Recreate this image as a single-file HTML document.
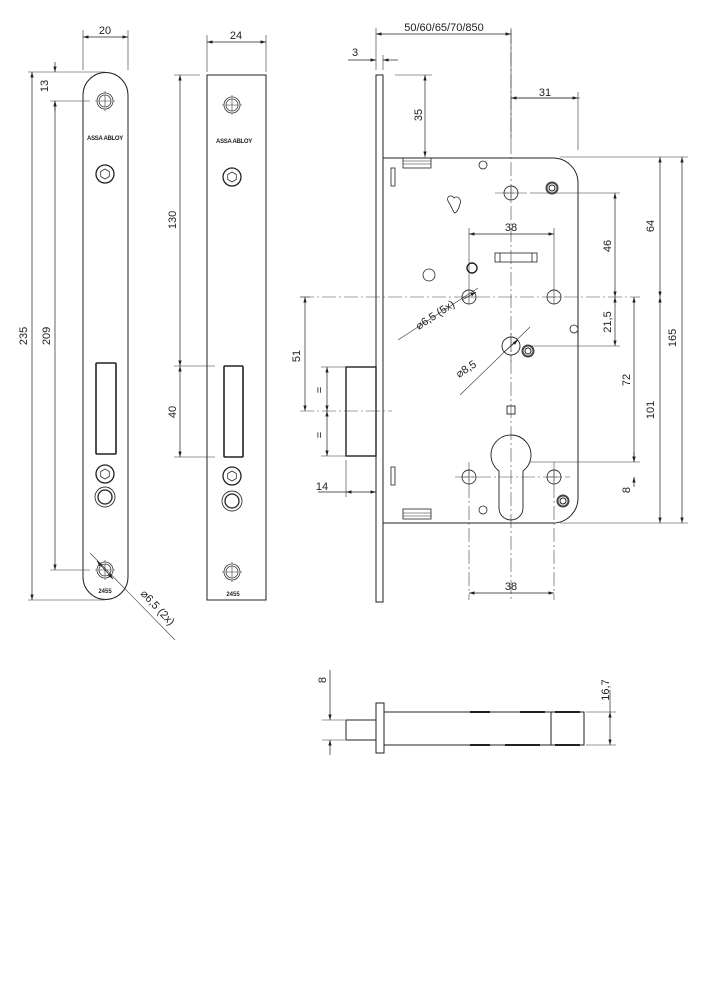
<!DOCTYPE html>
<html><head><meta charset="utf-8"><style>
html,body{margin:0;padding:0;background:#fff}
svg{display:block}
text{font-family:"Liberation Sans",sans-serif;font-size:11px;fill:#222}
</style></head><body>
<svg width="707" height="1000" viewBox="0 0 707 1000" xmlns="http://www.w3.org/2000/svg">
<defs>
<marker id="a" viewBox="0 0 10 6" refX="10" refY="3" markerWidth="8" markerHeight="5" orient="auto-start-reverse"><path d="M0,0L10,3L0,6z" fill="#222"/></marker>
<g id="ph"><circle r="7" fill="none" stroke="#333" stroke-width="0.9"/><path d="M-7,0H7M0,-7V7" stroke="#333" stroke-width="0.6"/></g>
<g id="ps"><circle r="8" fill="none" stroke="#333" stroke-width="0.8"/><circle r="6" fill="none" stroke="#333" stroke-width="0.8"/><path d="M-6,0H6M0,-6V6" stroke="#333" stroke-width="0.6"/><path d="M0,-10V-8M0,8V10M-10,0H-8M8,0H10" stroke="#333" stroke-width="0.6"/></g>
<g id="hx"><circle r="9" fill="none" stroke="#222" stroke-width="1.3"/><path d="M0,-5L4.3,-2.5L4.3,2.5L0,5L-4.3,2.5L-4.3,-2.5Z" fill="none" stroke="#333" stroke-width="0.8"/></g>
<g id="rg"><circle r="10" fill="none" stroke="#333" stroke-width="0.9"/><circle r="7" fill="none" stroke="#222" stroke-width="1.3"/></g>
<g id="sc"><circle r="6.5" fill="#444"/><circle r="4.5" fill="#fff"/><circle r="3" fill="none" stroke="#222" stroke-width="1"/></g>
</defs>
<g stroke="#222" fill="none" stroke-width="1">
<path d="M83,95 A22.5,22.5 0 0 1 128,95 V577 A22.5,22.5 0 0 1 83,577 Z"/>
<rect x="96" y="363" width="20" height="91" stroke-width="1.6" rx="1"/>
<rect x="207" y="75" width="59" height="525"/>
<rect x="224" y="366" width="19" height="91" stroke-width="1.6" rx="1"/>
<rect x="376" y="75" width="7" height="527"/>
<path d="M383,158 H553 A25,25 0 0 1 578,183 V498 A25,25 0 0 1 553,523 H383"/>
<rect x="346" y="367" width="30" height="89" stroke-width="1.4"/>
<rect x="403" y="158" width="28" height="10" stroke-width="0.8"/>
<path d="M403,161H431M403,164H431" stroke-width="0.5"/>
<rect x="403" y="509" width="28" height="10" stroke-width="0.8"/>
<path d="M403,513H431M403,516H431" stroke-width="0.5"/>
<rect x="391" y="168" width="4" height="18" stroke-width="0.8"/>
<rect x="391" y="467" width="4" height="18" stroke-width="0.8"/>
<rect x="495" y="253" width="42" height="9" stroke-width="0.8"/>
<path d="M500,253V262M532,253V262" stroke-width="0.8"/>
<rect x="507" y="406" width="8" height="8" stroke-width="0.9"/>
<path d="M499,471 A20,20 0 1 1 523,471 V508 A12,12 0 0 1 499,508 Z" stroke-width="0.9"/>
<circle cx="483" cy="165" r="4" stroke-width="0.8"/>
<circle cx="574" cy="329" r="4" stroke-width="0.8"/>
<circle cx="483" cy="510" r="4" stroke-width="0.8"/>
<circle cx="429" cy="275" r="6" stroke-width="0.8"/>
<circle cx="472" cy="268" r="5" stroke-width="1.4"/>
<path d="M448,201 C446,196 452,194 454,198 C457,195 462,199 460,204 C459,208 457,212 455,213 C453,212 452,207 448,201 Z" stroke-width="0.8"/>
<circle cx="511" cy="346" r="9" stroke-width="0.9"/>
<rect x="376" y="703" width="8" height="50"/>
<rect x="346" y="720" width="30" height="20"/>
<path d="M384,712 H584 V745 H384 M551,712V745"/>
<path d="M470,712h20M520,712h25M555,712h25M470,745h20M505,745h35M555,745h25" stroke-width="2"/>
</g>
<use href="#ps" x="105" y="101"/><use href="#ps" x="105" y="570"/>
<use href="#ps" x="232" y="105"/><use href="#ps" x="232" y="572"/>
<use href="#hx" x="105" y="174"/><use href="#hx" x="232" y="177"/>
<use href="#hx" x="105" y="474"/><use href="#hx" x="232" y="476"/>
<use href="#rg" x="105" y="497"/><use href="#rg" x="232" y="501"/>
<use href="#ph" x="511" y="193"/><use href="#ph" x="469" y="297"/><use href="#ph" x="554" y="297"/>
<use href="#ph" x="469" y="477"/><use href="#ph" x="554" y="477"/>
<use href="#sc" x="552" y="188"/><use href="#sc" x="528" y="351"/><use href="#sc" x="563" y="501"/>
<text x="105" y="140" text-anchor="middle" style="font-size:6px;font-weight:bold;letter-spacing:-0.3px">ASSA ABLOY</text>
<text x="234" y="143" text-anchor="middle" style="font-size:6px;font-weight:bold;letter-spacing:-0.3px">ASSA ABLOY</text>
<text x="105" y="593" text-anchor="middle" style="font-size:6px;font-weight:bold">2455</text>
<text x="233" y="596" text-anchor="middle" style="font-size:6px;font-weight:bold">2455</text>
<g stroke="#444" stroke-width="0.6" stroke-dasharray="14,3,2,3" fill="none">
<path d="M511,30V600"/>
<path d="M300,297H640"/>
<path d="M300,411H392"/>
<path d="M455,477H570M469,462V600M554,462V600"/>
<path d="M495,193H527M511,333V362"/>
</g>
<g stroke="#333" stroke-width="0.6" fill="none">
<path d="M83,30V70M128,30V70M207,35V72M266,35V72"/>
<path d="M28,72H105M50,101H90M28,600H105M50,570H90"/>
<path d="M174,75H200M174,366H215M174,457H215"/>
<path d="M376,28V70M383,55V70M395,75H432M511,28V140M578,92V150M516,98H580"/>
<path d="M560,157H688M530,193H620M560,523H688M530,346H620M530,462H640"/>
<path d="M469,228V290M554,228V290"/>
<path d="M300,297H310M321,367H346M321,456H346M346,460V497"/>
<path d="M322,720H345M322,740H345M586,712H616M586,745H616"/>
<path d="M90,553L175,640M398,340L478,288M460,395L530,327"/>
</g>
<g stroke="#222" stroke-width="0.7" fill="none">
<path d="M83,37H128" marker-start="url(#a)" marker-end="url(#a)"/>
<path d="M207,42H266" marker-start="url(#a)" marker-end="url(#a)"/>
<path d="M55,62V72" marker-end="url(#a)"/><path d="M55,111V101" marker-end="url(#a)"/>
<path d="M32,72V600" marker-start="url(#a)" marker-end="url(#a)"/>
<path d="M55,101V570" marker-start="url(#a)" marker-end="url(#a)"/>
<path d="M180,75V366" marker-start="url(#a)" marker-end="url(#a)"/>
<path d="M180,366V457" marker-start="url(#a)" marker-end="url(#a)"/>
<path d="M376,34H511" marker-start="url(#a)" marker-end="url(#a)"/>
<path d="M348,60H376" marker-end="url(#a)"/><path d="M398,60H383" marker-end="url(#a)"/>
<path d="M425,75V157" marker-start="url(#a)" marker-end="url(#a)"/>
<path d="M511,98H578" marker-start="url(#a)" marker-end="url(#a)"/>
<path d="M660,157V297" marker-start="url(#a)" marker-end="url(#a)"/>
<path d="M682,157V523" marker-start="url(#a)" marker-end="url(#a)"/>
<path d="M615,193V297" marker-start="url(#a)" marker-end="url(#a)"/>
<path d="M615,297V346" marker-start="url(#a)" marker-end="url(#a)"/>
<path d="M634,297V462" marker-start="url(#a)" marker-end="url(#a)"/>
<path d="M660,297V523" marker-start="url(#a)" marker-end="url(#a)"/>
<path d="M634,452V462" marker-end="url(#a)"/><path d="M634,487V477" marker-end="url(#a)"/>
<path d="M469,234H554" marker-start="url(#a)" marker-end="url(#a)"/>
<path d="M469,593H554" marker-start="url(#a)" marker-end="url(#a)"/>
<path d="M305,297V411" marker-start="url(#a)" marker-end="url(#a)"/>
<path d="M327,367V411" marker-start="url(#a)" marker-end="url(#a)"/>
<path d="M327,411V456" marker-start="url(#a)" marker-end="url(#a)"/>
<path d="M318,492H346"/><path d="M346,492H376" marker-start="url(#a)" marker-end="url(#a)"/>
<path d="M330,705V720" marker-end="url(#a)"/><path d="M330,755V740" marker-end="url(#a)"/>
<path d="M610,712V745" marker-start="url(#a)" marker-end="url(#a)"/>
<path d="M610,690V712"/>
<path d="M330,670V705"/>
<path d="M97,561L113,579" marker-start="url(#a)" marker-end="url(#a)"/>
<path d="M462,300L476,292" marker-end="url(#a)"/><path d="M504,352L518,340" marker-end="url(#a)"/>
</g>
<text x="105" y="34" text-anchor="middle">20</text>
<text x="236" y="39" text-anchor="middle">24</text>
<text x="444" y="31" text-anchor="middle">50/60/65/70/850</text>
<text x="355" y="56" text-anchor="middle">3</text>
<text x="545" y="96" text-anchor="middle">31</text>
<text x="511" y="231" text-anchor="middle">38</text>
<text x="511" y="590" text-anchor="middle">38</text>
<text x="322" y="490" text-anchor="middle">14</text>
<g text-anchor="middle">
<text transform="translate(48,86) rotate(-90)">13</text>
<text transform="translate(27,336) rotate(-90)">235</text>
<text transform="translate(50,336) rotate(-90)">209</text>
<text transform="translate(176,220) rotate(-90)">130</text>
<text transform="translate(176,412) rotate(-90)">40</text>
<text transform="translate(422,115) rotate(-90)">35</text>
<text transform="translate(654,226) rotate(-90)">64</text>
<text transform="translate(676,338) rotate(-90)">165</text>
<text transform="translate(611,246) rotate(-90)">46</text>
<text transform="translate(611,322) rotate(-90)">21,5</text>
<text transform="translate(630,380) rotate(-90)">72</text>
<text transform="translate(654,410) rotate(-90)">101</text>
<text transform="translate(630,490) rotate(-90)">8</text>
<text transform="translate(300,356) rotate(-90)">51</text>
<text transform="translate(323,390) rotate(-90)">=</text>
<text transform="translate(323,435) rotate(-90)">=</text>
<text transform="translate(326,680) rotate(-90)">8</text>
<text transform="translate(609,690) rotate(-90)">16,7</text>
<text transform="translate(155,610) rotate(47)">⌀6,5 (2x)</text>
<text transform="translate(437,318) rotate(-33)">⌀6,5 (5x)</text>
<text transform="translate(468,372) rotate(-33)">⌀8,5</text>
</g>
</svg>
</body></html>
